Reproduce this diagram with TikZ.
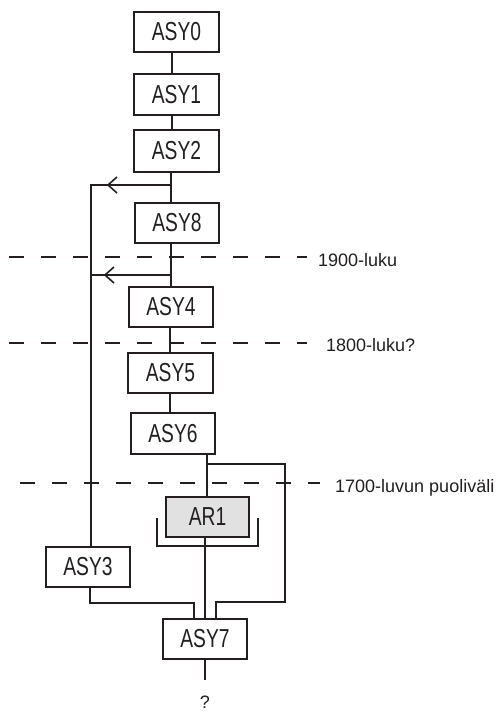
\documentclass[tikz,border=0pt]{standalone}
\usepackage{fontspec}
\setmainfont{Liberation Sans}
\newfontfamily\boxfont[FakeStretch=0.74]{Liberation Sans}
\begin{document}
\begin{tikzpicture}[x=1pt,y=-1pt,
  line cap=butt,
  box/.style={draw=ink, line width=1.3pt, inner sep=0pt, minimum width=84pt, minimum height=40pt, font=\boxfont\fontsize{26}{28}\selectfont, text=ink},
  conn/.style={draw=ink, line width=2pt},
  era/.style={draw=ink, line width=2pt, dash pattern=on 15pt off 17pt},
  lbl/.style={font=\fontsize{18}{20}\selectfont, text=ink, inner sep=0pt},
  ahead/.style={draw=ink, line width=1.6pt}]
\definecolor{ink}{HTML}{231F20}
\definecolor{arfill}{HTML}{E1E1E1}
\useasboundingbox (0,0) rectangle (500,711);
\fill[white] (0,0) rectangle (500,711);

% era lines
\draw[era] (9,257) -- (307,257);
\draw[era] (9,343) -- (307,343);
\draw[era] (20,483) -- (320,483);
\node[lbl, anchor=base west] (t1900) at (318,266) {1900-luku};
\node[lbl, anchor=base west] (t1800) at (326,351) {1800-luku?};
\node[lbl, anchor=base west] (t1700) at (335,492) {1700-luvun puoliväli};

% boxes
\node[box, minimum width=85pt] (ASY0) at (176.5,32) {ASY0};
\node[box, minimum width=85pt, minimum height=41pt] (ASY1) at (176.5,94.5) {ASY1};
\node[box, minimum width=85pt, minimum height=42pt] (ASY2) at (176.5,151) {ASY2};
\node[box] (ASY8) at (177,223) {ASY8};
\node[box] (ASY4) at (171,307) {ASY4};
\node[box, minimum width=85pt] (ASY5) at (170.5,373) {ASY5};
\node[box, minimum height=41pt] (ASY6) at (173,433.5) {ASY6};
\node[box, fill=arfill, minimum width=83pt] (AR1) at (207.5,517) {AR1};
\node[box] (ASY3) at (88,567) {ASY3};
\node[box] (ASY7) at (205,639) {ASY7};
\node[lbl, anchor=base] (q) at (205,708) {?};

% junction coordinates
\coordinate (j1) at (171,185);
\coordinate (j2) at (170.5,275);
\coordinate (l1) at (91,185);
\coordinate (l2) at (91,275);
\coordinate (j6) at (207,464);
\coordinate (r1) at (285,464);
\coordinate (r2) at (285,602);
\coordinate (r3) at (216,602);
\coordinate (a3) at (90,603);
\coordinate (a4) at (194,603);
\coordinate (qend) at (205,680);

% main spine
\draw[conn] (172,0 |- ASY0.south) -- (172,0 |- ASY1.north);
\draw[conn] (172,0 |- ASY1.south) -- (172,0 |- ASY2.north);
\draw[conn] (171,0 |- ASY2.south) -- (171,0 |- ASY8.north);
\draw[conn] (170.5,0 |- ASY8.south) -- (170.5,0 |- ASY4.north);
\draw[conn] (170,0 |- ASY4.south) -- (170,0 |- ASY5.north);
\draw[conn] (169.5,0 |- ASY5.south) -- (169.5,0 |- ASY6.north);
\draw[conn] (207,0 |- ASY6.south) -- (207,0 |- AR1.north);
\draw[conn] (205,0 |- AR1.south) -- (205,0 |- ASY7.north);
\draw[conn] (205,0 |- ASY7.south) -- (qend);

% left branch
\draw[conn] (j1) -- (l1) -- (91,0 |- ASY3.north);
\draw[conn] (j2) -- (l2);
\draw[ahead] (117,177) -- (108,185) -- (117,193);
\draw[ahead] (114,267) -- (105,275) -- (114,283);

% right branch
\draw[conn] (j6) -- (r1) -- (r2) -- (r3) -- (216,0 |- ASY7.north);
% ASY3 to ASY7
\draw[conn] (90,0 |- ASY3.south) -- (a3) -- (a4) -- (194,0 |- ASY7.north);

% bracket round AR1
\draw[draw=ink, line width=1.6pt] (157,518) -- (157,546) -- (258,546) -- (258,518);
\end{tikzpicture}
\end{document}
